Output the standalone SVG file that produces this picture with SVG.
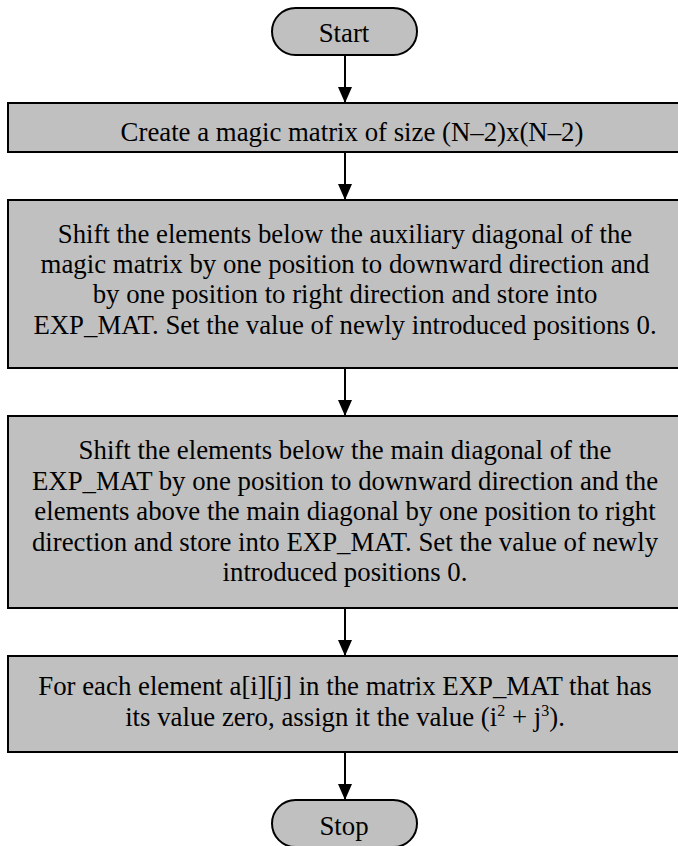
<svg xmlns="http://www.w3.org/2000/svg" width="678" height="846" viewBox="0 0 678 846">
  <style>
    .shape { fill: #c0c0c0; stroke: #000; stroke-width: 2; }
    .label { font-family: "Liberation Serif", "Times New Roman", serif; font-size: 26.8px; fill: #000; text-anchor: middle; }
    .sup { font-size: 16px; }
    .edge { stroke: #000; stroke-width: 2; fill: none; marker-end: url(#arrow); }
  </style>
  <defs>
    <!-- filled triangular arrowhead, drawn along +x so orient="auto" points it down the line -->
    <marker id="arrow" viewBox="0 0 16 14" refX="16" refY="7" markerWidth="16" markerHeight="14" markerUnits="userSpaceOnUse" orient="auto">
      <path d="M0,0 L16,7 L0,14 Z" fill="#000"/>
    </marker>
  </defs>
  <rect width="678" height="846" fill="#fff"/>

  <g id="connectors">
    <line class="edge" x1="345" y1="55" x2="345" y2="103"/>
    <line class="edge" x1="345" y1="152" x2="345" y2="200"/>
    <line class="edge" x1="345" y1="368" x2="345" y2="416"/>
    <line class="edge" x1="345" y1="608" x2="345" y2="656"/>
    <line class="edge" x1="345" y1="752" x2="345" y2="800"/>
  </g>

  <g id="start">
    <rect class="shape" x="272" y="8" width="145" height="47" rx="23.5"/>
    <text class="label" x="344" y="42">Start</text>
  </g>

  <g id="create">
    <rect class="shape" x="8" y="103" width="690" height="49"/>
    <text class="label" x="352" y="141">Create a magic matrix of size (N–2)x(N–2)</text>
  </g>

  <g id="shift-aux">
    <rect class="shape" x="8" y="200" width="690" height="168"/>
    <text class="label" x="345" y="243">Shift the elements below the auxiliary diagonal of the</text>
    <text class="label" x="345" y="273">magic matrix by one position to downward direction and</text>
    <text class="label" x="345" y="303">by one position to right direction and store into</text>
    <text class="label" x="345" y="334">EXP_MAT. Set the value of newly introduced positions 0.</text>
  </g>

  <g id="shift-main">
    <rect class="shape" x="8" y="416" width="690" height="192"/>
    <text class="label" x="345" y="459">Shift the elements below the main diagonal of the</text>
    <text class="label" x="345" y="490">EXP_MAT by one position to downward direction and the</text>
    <text class="label" x="345" y="520">elements above the main diagonal by one position to right</text>
    <text class="label" x="345" y="551">direction and store into EXP_MAT. Set the value of newly</text>
    <text class="label" x="345" y="581">introduced positions 0.</text>
  </g>

  <g id="assign">
    <rect class="shape" x="8" y="656" width="690" height="96"/>
    <text class="label" x="345" y="695">For each element a[i][j] in the matrix EXP_MAT that has</text>
    <text class="label" x="345" y="726">its value zero, assign it the value (i<tspan class="sup" dy="-10">2</tspan><tspan dy="10"> + j</tspan><tspan class="sup" dy="-10">3</tspan><tspan dy="10">).</tspan></text>
  </g>

  <g id="stop">
    <rect class="shape" x="272" y="800" width="145" height="47" rx="23.5"/>
    <text class="label" x="344" y="835">Stop</text>
  </g>
</svg>
